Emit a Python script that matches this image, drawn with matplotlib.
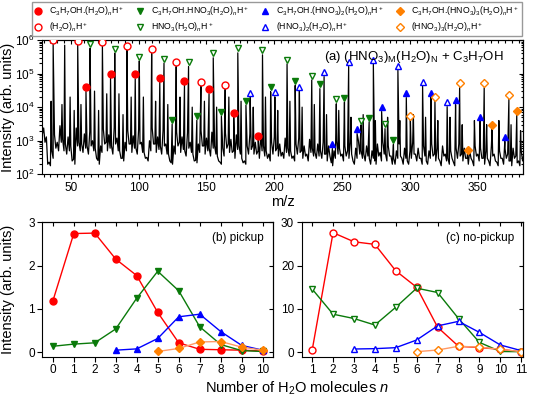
import numpy as np
import matplotlib
matplotlib.use('Agg')
import matplotlib.pyplot as plt
from matplotlib.ticker import MultipleLocator, LogLocator, NullFormatter
from matplotlib.lines import Line2D

plt.rcParams['font.family'] = ['Liberation Sans', 'DejaVu Sans']
plt.rcParams['mathtext.fontset'] = 'custom'
plt.rcParams['mathtext.rm'] = 'Liberation Sans'
plt.rcParams['mathtext.it'] = 'Liberation Sans:italic'
plt.rcParams['mathtext.bf'] = 'Liberation Sans:bold'

# ---------------- (a) mass spectrum ----------------
# background / noise of the trace: points at even m/z (28..384) ...
band_even_mz = np.arange(28, 386, 2)
band_even_int = [
    3000, 2400, 1300, 230, 500, 1500, 900, 2800, 1100,
    800, 1300, 700, 280, 2400, 900, 800, 1600, 700,
    1900, 1000, 600, 260, 700, 2200, 900, 1500, 700,
    2500, 1200, 500, 300, 900, 2000, 800, 1400, 600,
    2200, 900, 450, 320, 1000, 2400, 800, 1300, 700,
    2000, 800, 400, 220, 700, 1800, 900, 1300, 500,
    1700, 900, 400, 260, 800, 2000, 700, 1200, 600,
    1800, 700, 350, 230, 600, 1700, 800, 1100, 500,
    1500, 700, 300, 250, 700, 1600, 700, 900, 500,
    1400, 700, 500, 400, 900, 1300, 600, 800, 450,
    1200, 600, 500, 350, 800, 1200, 500, 700, 400,
    1100, 600, 450, 800, 500, 900, 400, 700, 220,
    500, 1000, 600, 400, 700, 500, 900, 250, 600,
    1000, 500, 400, 700, 300, 500, 250, 800, 450,
    900, 400, 700, 350, 300, 500, 800, 300, 600,
    250, 500, 900, 400, 600, 300, 700, 250, 500,
    800, 400, 600, 250, 700, 400, 300, 500, 230,
    600, 800, 400, 600, 300, 500, 250, 700, 400,
    600, 300, 500, 250, 700, 400, 230, 500, 300,
    600, 400, 250, 600, 350, 250, 500, 400,
]
# ... and at odd m/z (29..383)
band_odd_mz = np.arange(29, 385, 2)
band_odd_int = [
    1500, 900, 200, 180, 300, 600, 500, 900, 500,
    400, 500, 250, 200, 700, 500, 450, 600, 400,
    700, 500, 300, 200, 450, 800, 500, 600, 400,
    800, 500, 300, 250, 500, 800, 450, 600, 400,
    800, 450, 300, 250, 500, 800, 450, 550, 400,
    700, 400, 250, 200, 400, 700, 450, 550, 350,
    600, 450, 250, 220, 450, 700, 400, 500, 350,
    600, 400, 250, 200, 350, 600, 450, 450, 300,
    550, 400, 220, 200, 400, 550, 400, 400, 300,
    500, 350, 300, 250, 400, 500, 350, 350, 300,
    450, 350, 300, 250, 400, 450, 300, 350, 250,
    450, 350, 300, 350, 300, 400, 250, 350, 180,
    300, 400, 350, 250, 350, 300, 400, 200, 300,
    400, 300, 250, 350, 200, 300, 200, 350, 250,
    400, 250, 350, 200, 200, 300, 350, 200, 300,
    200, 300, 400, 250, 300, 200, 350, 200, 300,
    350, 250, 300, 180, 350, 250, 200, 300, 180,
    300, 350, 250, 300, 200, 300, 180, 350, 250,
    300, 200, 300, 180, 350, 250, 180, 300, 200,
    300, 250, 180, 300, 220, 180, 250,
]

# unassigned peaks
other_mz = [35.5, 43.5, 45.5, 49.5, 52.5, 57.5, 67.5, 70.5, 76.5, 85.5, 88.5, 94.5,
            103.5, 112.5, 121.5, 130.5, 139.5, 148.5, 157.5, 166.5, 175.5, 184.5,
            193.5, 202.5, 211.5, 220.5, 229.5, 238.5, 247.5, 256.5, 265.5, 274.5,
            283.5, 292.5, 302.5, 311.5, 320.5, 329.5, 338.5, 347.5, 356.5, 365.5,
            374.5, 381.5]
other_int = [1.5e4, 1.2e4, 7e5, 2e4, 8e3, 1.2e4, 3e4, 8e3, 2.5e4, 2.5e4, 6e3, 2e4,
             2e4, 1.5e4, 1.2e4, 2e4, 1e4, 1.5e4, 1e4, 2e4, 1.5e4, 1e4,
             2e4, 8e3, 1.5e4, 1e4, 1.2e4, 6e3, 8e3, 5e3, 6e3, 4e3,
             5e3, 4e3, 6e3, 5e3, 4e3, 5e3, 3e3, 4e3, 3e3, 4e3,
             3e3, 2e3]

# assigned peaks (label positions)
pa_mz = {
    'pw': [61.2, 79.3, 97.5, 115.6, 133.8, 151.9, 170.1, 188.2],
    'w': [37, 55.1, 73.3, 91.4, 109.6, 127.7, 145.9, 163.8],
    'pn1': [124.7, 142.9, 161.0, 179.1, 197.3, 215.4, 233.6, 251.7, 269.9, 287.8],
    'n1': [64.2, 82.4, 100.5, 118.7, 136.8, 155.0, 173.1, 191.3, 209.4, 227.6,
           245.7, 263.9, 281.6],
    'pn2': [242.8, 261.0, 279.1, 297.3, 315.4, 333.6, 351.7, 369.9],
    'n2': [182.2, 200.4, 218.5, 236.7, 254.8, 273.0, 291.1, 309.3, 327.4],
    'pn3': [342.4, 360.5, 378.7],
    'n3': [300.3, 318.4, 336.6, 354.7, 372.9],
}
pa_int = {
    'pw': [4.0e4, 9.8e4, 9.5e4, 7.6e4, 6.2e4, 3.4e4, 6.9e3, 1.4e3],
    'w': [1.0e6, 9.5e5, 8.9e5, 6.8e5, 5.4e5, 2.2e5, 5.8e4, 4.6e4],
    'pn1': [4.2e3, 5.5e3, 7.2e3, 1.55e4, 3.9e4, 6.0e4, 4.8e4, 1.9e4, 4.9e3, 1.05e3],
    'n1': [7.6e5, 5.5e5, 3.2e5, 2.75e5, 2.2e5, 4.0e5, 5.6e5, 4.9e5, 2.6e5, 8.7e4,
           1.7e4, 4.0e3, 3.1e3],
    'pn2': [7.9e2, 2.2e3, 1.0e4, 2.6e4, 2.7e4, 1.6e4, 5.2e3, 1.3e3],
    'n2': [2.6e4, 2.75e4, 4.1e4, 1.1e5, 2.2e5, 2.6e5, 1.7e5, 5.8e4, 1.4e4],
    'pn3': [5.4e2, 3.0e3, 7.8e3],
    'n3': [5.6e3, 2.0e4, 5.1e4, 5.1e4, 2.3e4],
}

# ---------------- (b) pickup, (c) no-pickup ----------------
nb = {
    'pw': (list(range(0, 11)), [1.18, 2.74, 2.75, 2.15, 1.77, 0.92, 0.22, 0.07, 0.06, 0.05, 0.03]),
    'pn1': (list(range(0, 11)), [0.14, 0.19, 0.22, 0.54, 1.25, 1.87, 1.42, 0.59, 0.18, 0.04, 0.02]),
    'pn2': (list(range(3, 11)), [0.05, 0.08, 0.32, 0.82, 0.88, 0.48, 0.16, 0.05]),
    'pn3': (list(range(5, 11)), [0.02, 0.09, 0.24, 0.25, 0.12, 0.05]),
}
nc = {
    'w': (list(range(1, 12)), [0.5, 27.6, 25.5, 24.9, 18.8, 15.0, 5.8, 1.4, 1.1, 0.7, 0.1]),
    'n1': (list(range(1, 12)), [14.6, 8.8, 7.8, 6.3, 10.4, 14.8, 13.8, 7.8, 2.3, 0.2, 0.15]),
    'n2': (list(range(3, 12)), [0.77, 0.85, 1.08, 2.85, 6.1, 7.15, 4.6, 1.7, 0.4]),
    'n3': (list(range(6, 12)), [0.15, 0.54, 1.4, 1.2, 0.7, 0.15]),
}

labels = {
    'pw': r'C$_3$H$_7$OH.(H$_2$O)$_n$H$^+$',
    'w': r'(H$_2$O)$_n$H$^+$',
    'pn1': r'C$_3$H$_7$OH.HNO$_3$(H$_2$O)$_n$H$^+$',
    'n1': r'HNO$_3$(H$_2$O)$_n$H$^+$',
    'pn2': r'C$_3$H$_7$OH.(HNO$_3$)$_2$(H$_2$O)$_n$H$^+$',
    'n2': r'(HNO$_3$)$_2$(H$_2$O)$_n$H$^+$',
    'pn3': r'C$_3$H$_7$OH.(HNO$_3$)$_3$(H$_2$O)$_n$H$^+$',
    'n3': r'(HNO$_3$)$_3$(H$_2$O)$_n$H$^+$',
}
order = ['pw', 'w', 'pn1', 'n1', 'pn2', 'n2', 'pn3', 'n3']

RED, GREEN, BLUE, ORANGE = '#ff0000', '#0a7a0a', '#0000ff', '#ff8000'
style = {
    'pw': dict(color=RED, marker='o', fill=True, line=RED),
    'w': dict(color=RED, marker='o', fill=False, line=RED),
    'pn1': dict(color=GREEN, marker='v', fill=True, line=GREEN),
    'n1': dict(color=GREEN, marker='v', fill=False, line=GREEN),
    'pn2': dict(color=BLUE, marker='^', fill=True, line=BLUE),
    'n2': dict(color=BLUE, marker='^', fill=False, line=BLUE),
    'pn3': dict(color=ORANGE, marker='D', fill=True, line='#ff9966'),
    'n3': dict(color=ORANGE, marker='D', fill=False, line='#ff9966'),
}


def mk(key, ms=5.0):
    s = style[key]
    size = ms * 0.8 if s['marker'] == 'D' else ms
    return dict(marker=s['marker'], markersize=size, markeredgecolor=s['color'],
                markerfacecolor=s['color'] if s['fill'] else 'white',
                markeredgewidth=1.0)


def mirror(ax, xmaj, xmin, ymaj, ymin):
    # ticks on top/right point inwards, bottom/left outwards
    sx = ax.secondary_xaxis('top')
    sx.xaxis.set_major_locator(xmaj)
    if xmin is not None:
        sx.xaxis.set_minor_locator(xmin)
    sx.xaxis.set_major_formatter(NullFormatter())
    sx.xaxis.set_minor_formatter(NullFormatter())
    sx.tick_params(which='both', direction='in', width=0.8)
    sx.tick_params(which='major', length=3)
    sx.tick_params(which='minor', length=1.8)
    sy = ax.secondary_yaxis('right')
    sy.yaxis.set_major_locator(ymaj)
    if ymin is not None:
        sy.yaxis.set_minor_locator(ymin)
    sy.yaxis.set_major_formatter(NullFormatter())
    sy.yaxis.set_minor_formatter(NullFormatter())
    sy.tick_params(which='both', direction='in', width=0.8)
    sy.tick_params(which='major', length=3)
    sy.tick_params(which='minor', length=1.8)
    ax.tick_params(which='both', direction='out', width=0.8, labelsize=8.5, pad=2)
    ax.tick_params(which='major', length=3.5)
    ax.tick_params(which='minor', length=2)


fig = plt.figure(figsize=(5.34, 4.05), dpi=100)

# ---- panel (a)
axa = fig.add_axes([0.0792, 0.5696, 0.9007, 0.3316])
label_offset = 1.35
pk_mz = list(other_mz)
pk_int = list(other_int)
for k in order:
    pk_mz += pa_mz[k]
    pk_int += [v / label_offset for v in pa_int[k]]
tr_mz = np.concatenate([band_even_mz, band_odd_mz, pk_mz])
tr_int = np.concatenate([band_even_int, band_odd_int, pk_int])
idx = np.argsort(tr_mz, kind='stable')
axa.plot(tr_mz[idx], tr_int[idx], color='black', lw=0.9, zorder=2)
for k in order:
    axa.plot(pa_mz[k], pa_int[k], ls='none', zorder=3, **mk(k))
axa.set_yscale('log')
axa.set_xlim(29, 383.5)
axa.set_ylim(1e2, 1e6)
axa.xaxis.set_major_locator(MultipleLocator(50))
axa.xaxis.set_minor_locator(MultipleLocator(5))
axa.yaxis.set_major_locator(LogLocator(base=10))
axa.yaxis.set_minor_locator(LogLocator(base=10, subs=np.arange(2, 10)))
axa.yaxis.set_minor_formatter(NullFormatter())
mirror(axa, MultipleLocator(50), MultipleLocator(5), LogLocator(base=10),
       LogLocator(base=10, subs=np.arange(2, 10)))
axa.set_xlabel('m/z', fontsize=10.5, labelpad=1)
axa.set_ylabel('Intensity (arb. units)', fontsize=10.5)
axa.yaxis.set_label_coords(-0.057, 0.5)
axa.text(0.96, 0.93, r'(a) (HNO$_3$)$_\mathrm{M}$(H$_2$O)$_\mathrm{N}$ + C$_3$H$_7$OH',
         transform=axa.transAxes, ha='right', va='top', fontsize=9.5)

# ---- panel (b)
axb = fig.add_axes([0.0792, 0.1193, 0.4324, 0.3319])
for k in ['pw', 'pn1', 'pn2', 'pn3']:
    x, y = nb[k]
    axb.plot(x, y, color=style[k]['line'], lw=1.0, **mk(k))
axb.set_xlim(-0.5, 10.5)
axb.set_ylim(-0.1, 3)
axb.xaxis.set_major_locator(MultipleLocator(1))
axb.yaxis.set_major_locator(MultipleLocator(1))
mirror(axb, MultipleLocator(1), None, MultipleLocator(1), None)
axb.set_ylabel('Intensity (arb. units)', fontsize=10.5)
axb.yaxis.set_label_coords(-0.119, 0.5)
axb.text(0.96, 0.93, '(b) pickup', transform=axb.transAxes, ha='right', va='top',
         fontsize=8.5)

# ---- panel (c)
axc = fig.add_axes([0.565, 0.1193, 0.415, 0.3319])
for k in ['w', 'n1', 'n2', 'n3']:
    x, y = nc[k]
    axc.plot(x, y, color=style[k]['line'], lw=1.0, **mk(k))
axc.set_xlim(0.5, 11.1)
axc.set_ylim(-1, 30)
axc.xaxis.set_major_locator(MultipleLocator(1))
axc.yaxis.set_major_locator(MultipleLocator(10))
mirror(axc, MultipleLocator(1), None, MultipleLocator(10), None)
axc.text(0.96, 0.93, '(c) no-pickup', transform=axc.transAxes, ha='right', va='top',
         fontsize=8.5)

fig.text(0.556, 0.042, r'Number of H$_2$O molecules $n$', ha='center', va='center',
         fontsize=10.5)

# ---- legend
handles = [Line2D([], [], ls='none', **mk(k, ms=5)) for k in order]
fig.legend(handles, [labels[k] for k in order], ncol=4, loc='upper center',
           bbox_to_anchor=(0.518, 0.996), fontsize=6.3, frameon=True, fancybox=False,
           edgecolor='#999999', framealpha=1, handlelength=0.8, handletextpad=0.9,
           columnspacing=1.4, borderpad=0.3, labelspacing=0.25, borderaxespad=0.0)

fig.savefig('out.png', dpi=100)
